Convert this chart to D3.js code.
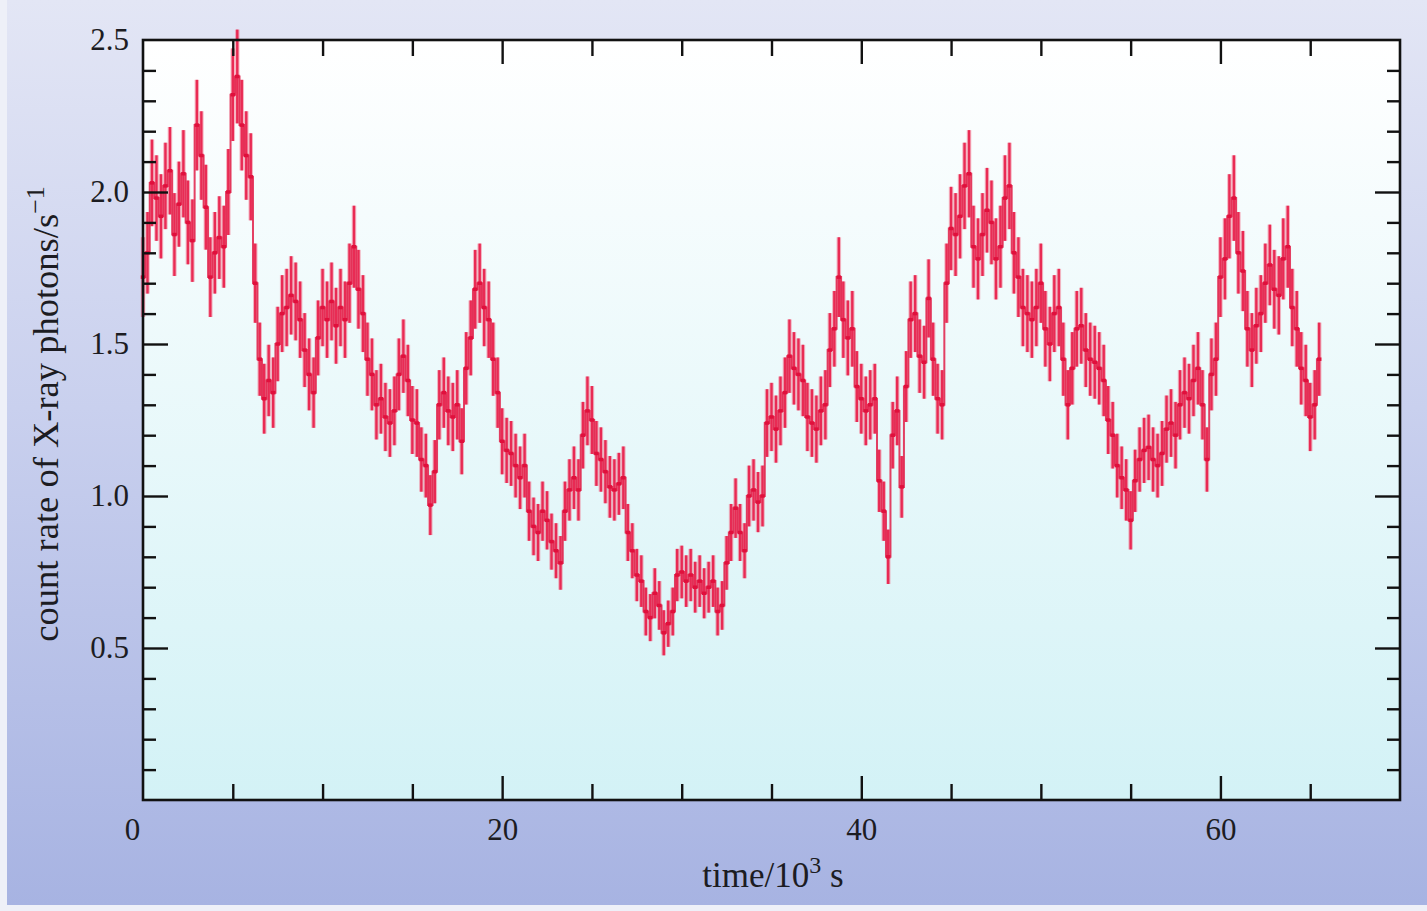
<!DOCTYPE html>
<html>
<head>
<meta charset="utf-8">
<script src="https://cdn.jsdelivr.net/npm/d3@7"></script>
<style>
  html, body { margin: 0; padding: 0; background: #eef0f8; }
  svg { display: block; }
  text { font-family: "Liberation Serif", "DejaVu Serif", serif; fill: #1c1c22; }
</style>
</head>
<body>
<div id="viz"></div>
<script>
// light curve, 250 s bins starting at t = 0 (count rate in photons/s)
const binSeconds = 250
const exposure = 100   // effective exposure per bin used for the poisson error
const rates = [
  1.72, 1.80, 2.03, 1.98,  1.92, 2.02, 2.07, 1.86,  1.96, 2.06, 1.90, 1.84,
  2.22, 2.12, 1.95, 1.72,  1.80, 1.85, 1.82, 2.00,  2.32, 2.38, 2.22, 2.12,
  2.05, 1.70, 1.45, 1.32,  1.38, 1.34, 1.50, 1.60,  1.62, 1.66, 1.64, 1.58,
  1.48, 1.40, 1.34, 1.52,  1.62, 1.58, 1.64, 1.56,  1.62, 1.58, 1.70, 1.82,
  1.68, 1.60, 1.45, 1.40,  1.30, 1.32, 1.26, 1.24,  1.28, 1.40, 1.46, 1.38,
  1.25, 1.24, 1.12, 1.10,  0.97, 1.08, 1.30, 1.34,  1.28, 1.26, 1.30, 1.18,
  1.42, 1.52, 1.68, 1.70,  1.62, 1.58, 1.45, 1.34,  1.18, 1.15, 1.14, 1.10,
  1.06, 1.10, 0.95, 0.90,  0.88, 0.95, 0.92, 0.85,  0.82, 0.78, 0.95, 1.02,
  1.06, 1.02, 1.20, 1.28,  1.25, 1.14, 1.12, 1.08,  1.03, 1.02, 1.04, 1.06,
  0.88, 0.82, 0.74, 0.72,  0.62, 0.60, 0.68, 0.64,  0.55, 0.58, 0.62, 0.74,
  0.75, 0.72, 0.74, 0.70,  0.72, 0.68, 0.70, 0.72,  0.62, 0.64, 0.78, 0.88,
  0.96, 0.88, 0.82, 1.00,  1.02, 0.98, 1.00, 1.24,  1.26, 1.22, 1.28, 1.34,
  1.46, 1.42, 1.40, 1.38,  1.26, 1.24, 1.22, 1.28,  1.30, 1.48, 1.55, 1.72,
  1.58, 1.52, 1.55, 1.36,  1.32, 1.28, 1.30, 1.32,  1.05, 0.95, 0.80, 1.20,
  1.28, 1.03, 1.36, 1.58,  1.60, 1.46, 1.44, 1.65,  1.45, 1.32, 1.30, 1.70,
  1.88, 1.86, 1.92, 2.02,  2.06, 1.82, 1.78, 1.86,  1.94, 1.90, 1.78, 1.82,
  1.98, 2.02, 1.80, 1.72,  1.62, 1.60, 1.58, 1.62,  1.70, 1.55, 1.50, 1.60,
  1.62, 1.45, 1.30, 1.42,  1.55, 1.56, 1.48, 1.45,  1.44, 1.42, 1.38, 1.25,
  1.20, 1.10, 1.06, 1.02,  0.92, 1.05, 1.12, 1.15,  1.16, 1.12, 1.10, 1.14,
  1.22, 1.24, 1.20, 1.30,  1.34, 1.32, 1.38, 1.42,  1.30, 1.12, 1.40, 1.45,
  1.72, 1.78, 1.92, 1.98,  1.80, 1.74, 1.55, 1.48,  1.56, 1.60, 1.70, 1.76,
  1.68, 1.66, 1.78, 1.82,  1.62, 1.55, 1.42, 1.38,  1.26, 1.30, 1.45
]
const xLabels = [0, 20, 40, 60]
const yLabels = [0.5, 1.0, 1.5, 2.0, 2.5]

const width = 1427, height = 911
const plot = {left: 143, top: 40, right: 1400, bottom: 800}
const red = "#e0103c"
const half = binSeconds / 2000

const points = rates.map((r, i) => ({
  t: i * binSeconds / 1000,
  r: r,
  e: Math.sqrt(r * exposure) / exposure   // poisson error
}))

const x = d3.scaleLinear().domain([0, 70]).range([plot.left, plot.right])
const y = d3.scaleLinear().domain([0, 2.5]).range([plot.bottom, plot.top])

const svg = d3.select("#viz").append("svg")
    .attr("width", width)
    .attr("height", height)

const defs = svg.append("defs")
const bg = defs.append("linearGradient").attr("id", "bg").attr("x1", 0).attr("y1", 0).attr("x2", 0).attr("y2", 1)
bg.append("stop").attr("offset", "0%").attr("stop-color", "#e3e6f5")
bg.append("stop").attr("offset", "45%").attr("stop-color", "#c9d0ee")
bg.append("stop").attr("offset", "100%").attr("stop-color", "#a7b3e2")
const pg = defs.append("linearGradient").attr("id", "pg").attr("x1", 0).attr("y1", 0).attr("x2", 0).attr("y2", 1)
pg.append("stop").attr("offset", "0%").attr("stop-color", "#ffffff")
pg.append("stop").attr("offset", "100%").attr("stop-color", "#d3f2f6")

svg.append("rect")
    .attr("x", 7).attr("y", 0)
    .attr("width", width - 7).attr("height", height - 6)
    .attr("fill", "url(#bg)")

svg.append("rect")
    .attr("x", plot.left).attr("y", plot.top)
    .attr("width", plot.right - plot.left).attr("height", plot.bottom - plot.top)
    .attr("fill", "url(#pg)")

// data: error band, error bars and bin steps
const data = svg.append("g")
data.append("g")
    .attr("fill", "#f25a78")
    .attr("fill-opacity", 0.45)
  .selectAll("rect")
  .data(points)
  .join("rect")
    .attr("x", d => x(d.t - half))
    .attr("width", d => x(d.t + half) - x(d.t - half))
    .attr("y", d => y(d.r + d.e))
    .attr("height", d => y(d.r - d.e) - y(d.r + d.e))
data.append("g")
    .attr("stroke", "#e81c48")
    .attr("stroke-width", 2.4)
    .attr("stroke-opacity", 0.9)
  .selectAll("line")
  .data(points)
  .join("line")
    .attr("x1", d => x(d.t)).attr("x2", d => x(d.t))
    .attr("y1", d => y(d.r - d.e)).attr("y2", d => y(d.r + d.e))
data.append("g")
    .attr("stroke", red)
    .attr("stroke-width", 3.5)
  .selectAll("line")
  .data(points)
  .join("line")
    .attr("x1", d => x(d.t - half)).attr("x2", d => x(d.t + half))
    .attr("y1", d => y(d.r)).attr("y2", d => y(d.r))
data.append("path")
    .datum(points)
    .attr("fill", "none")
    .attr("stroke", red)
    .attr("stroke-width", 2)
    .attr("stroke-opacity", 0.8)
    .attr("d", d3.line().curve(d3.curveStep).x(d => x(d.t)).y(d => y(d.r)))

// axes, ticks pointing inward on all four sides
const xMinor = d3.range(5, 70, 5).filter(v => v % 20 !== 0)
const yMinor = d3.range(1, 25).map(v => v / 10).filter(v => Math.abs(v * 2 - Math.round(v * 2)) > 1e-6)

function styleAxis(g) {
  g.select(".domain").remove()
  g.selectAll(".tick line").attr("stroke", "#111").attr("stroke-width", 2.4)
  g.selectAll(".tick text").attr("font-size", 31).attr("fill", "#1c1c22")
    .attr("font-family", "'Liberation Serif', serif")
}

svg.append("g").attr("transform", `translate(0,${plot.bottom})`)
    .call(d3.axisBottom(x).tickValues(xMinor).tickSizeInner(-16).tickSizeOuter(0).tickFormat(""))
    .call(styleAxis)
const xMajor = svg.append("g").attr("transform", `translate(0,${plot.bottom})`)
    .call(d3.axisBottom(x).tickValues(xLabels).tickSizeInner(-24).tickSizeOuter(0).tickPadding(18).tickFormat(d3.format("d")))
    .call(styleAxis)
xMajor.selectAll(".tick").filter(d => d === 0).select("text").attr("dx", -11)
xMajor.selectAll(".tick").filter(d => d === 0).select("line").remove()

svg.append("g").attr("transform", `translate(0,${plot.top})`)
    .call(d3.axisTop(x).tickValues(xMinor).tickSizeInner(-16).tickSizeOuter(0).tickFormat(""))
    .call(styleAxis)
svg.append("g").attr("transform", `translate(0,${plot.top})`)
    .call(d3.axisTop(x).tickValues(xLabels.filter(v => v > 0)).tickSizeInner(-24).tickSizeOuter(0).tickFormat(""))
    .call(styleAxis)

svg.append("g").attr("transform", `translate(${plot.left},0)`)
    .call(d3.axisLeft(y).tickValues(yMinor).tickSizeInner(-13).tickSizeOuter(0).tickFormat(""))
    .call(styleAxis)
const yMajor = svg.append("g").attr("transform", `translate(${plot.left},0)`)
    .call(d3.axisLeft(y).tickValues(yLabels).tickSizeInner(-25).tickSizeOuter(0).tickPadding(14).tickFormat(d3.format(".1f")))
    .call(styleAxis)
yMajor.selectAll(".tick").filter(d => d === 2.5).select("line").remove()

svg.append("g").attr("transform", `translate(${plot.right},0)`)
    .call(d3.axisRight(y).tickValues(yMinor).tickSizeInner(-13).tickSizeOuter(0).tickFormat(""))
    .call(styleAxis)
svg.append("g").attr("transform", `translate(${plot.right},0)`)
    .call(d3.axisRight(y).tickValues(yLabels.filter(v => v < 2.5)).tickSizeInner(-25).tickSizeOuter(0).tickFormat(""))
    .call(styleAxis)

// frame
svg.append("rect")
    .attr("x", plot.left).attr("y", plot.top)
    .attr("width", plot.right - plot.left).attr("height", plot.bottom - plot.top)
    .attr("fill", "none")
    .attr("stroke", "#111")
    .attr("stroke-width", 2.6)

// axis titles
const xt = svg.append("text")
    .attr("x", 773).attr("y", 887)
    .attr("text-anchor", "middle")
    .attr("font-size", 35)
xt.append("tspan").text("time/10")
xt.append("tspan").attr("dy", -14).attr("font-size", 24).text("3")
xt.append("tspan").attr("dy", 14).text(" s")

const yt = svg.append("text")
    .attr("transform", `translate(58,${y(1.27)}) rotate(-90)`)
    .attr("text-anchor", "middle")
    .attr("font-size", 36.5)
yt.append("tspan").text("count rate of X-ray photons/s")
yt.append("tspan").attr("dy", -14).attr("font-size", 26).text("\u22121")
</script>
</body>
</html>
